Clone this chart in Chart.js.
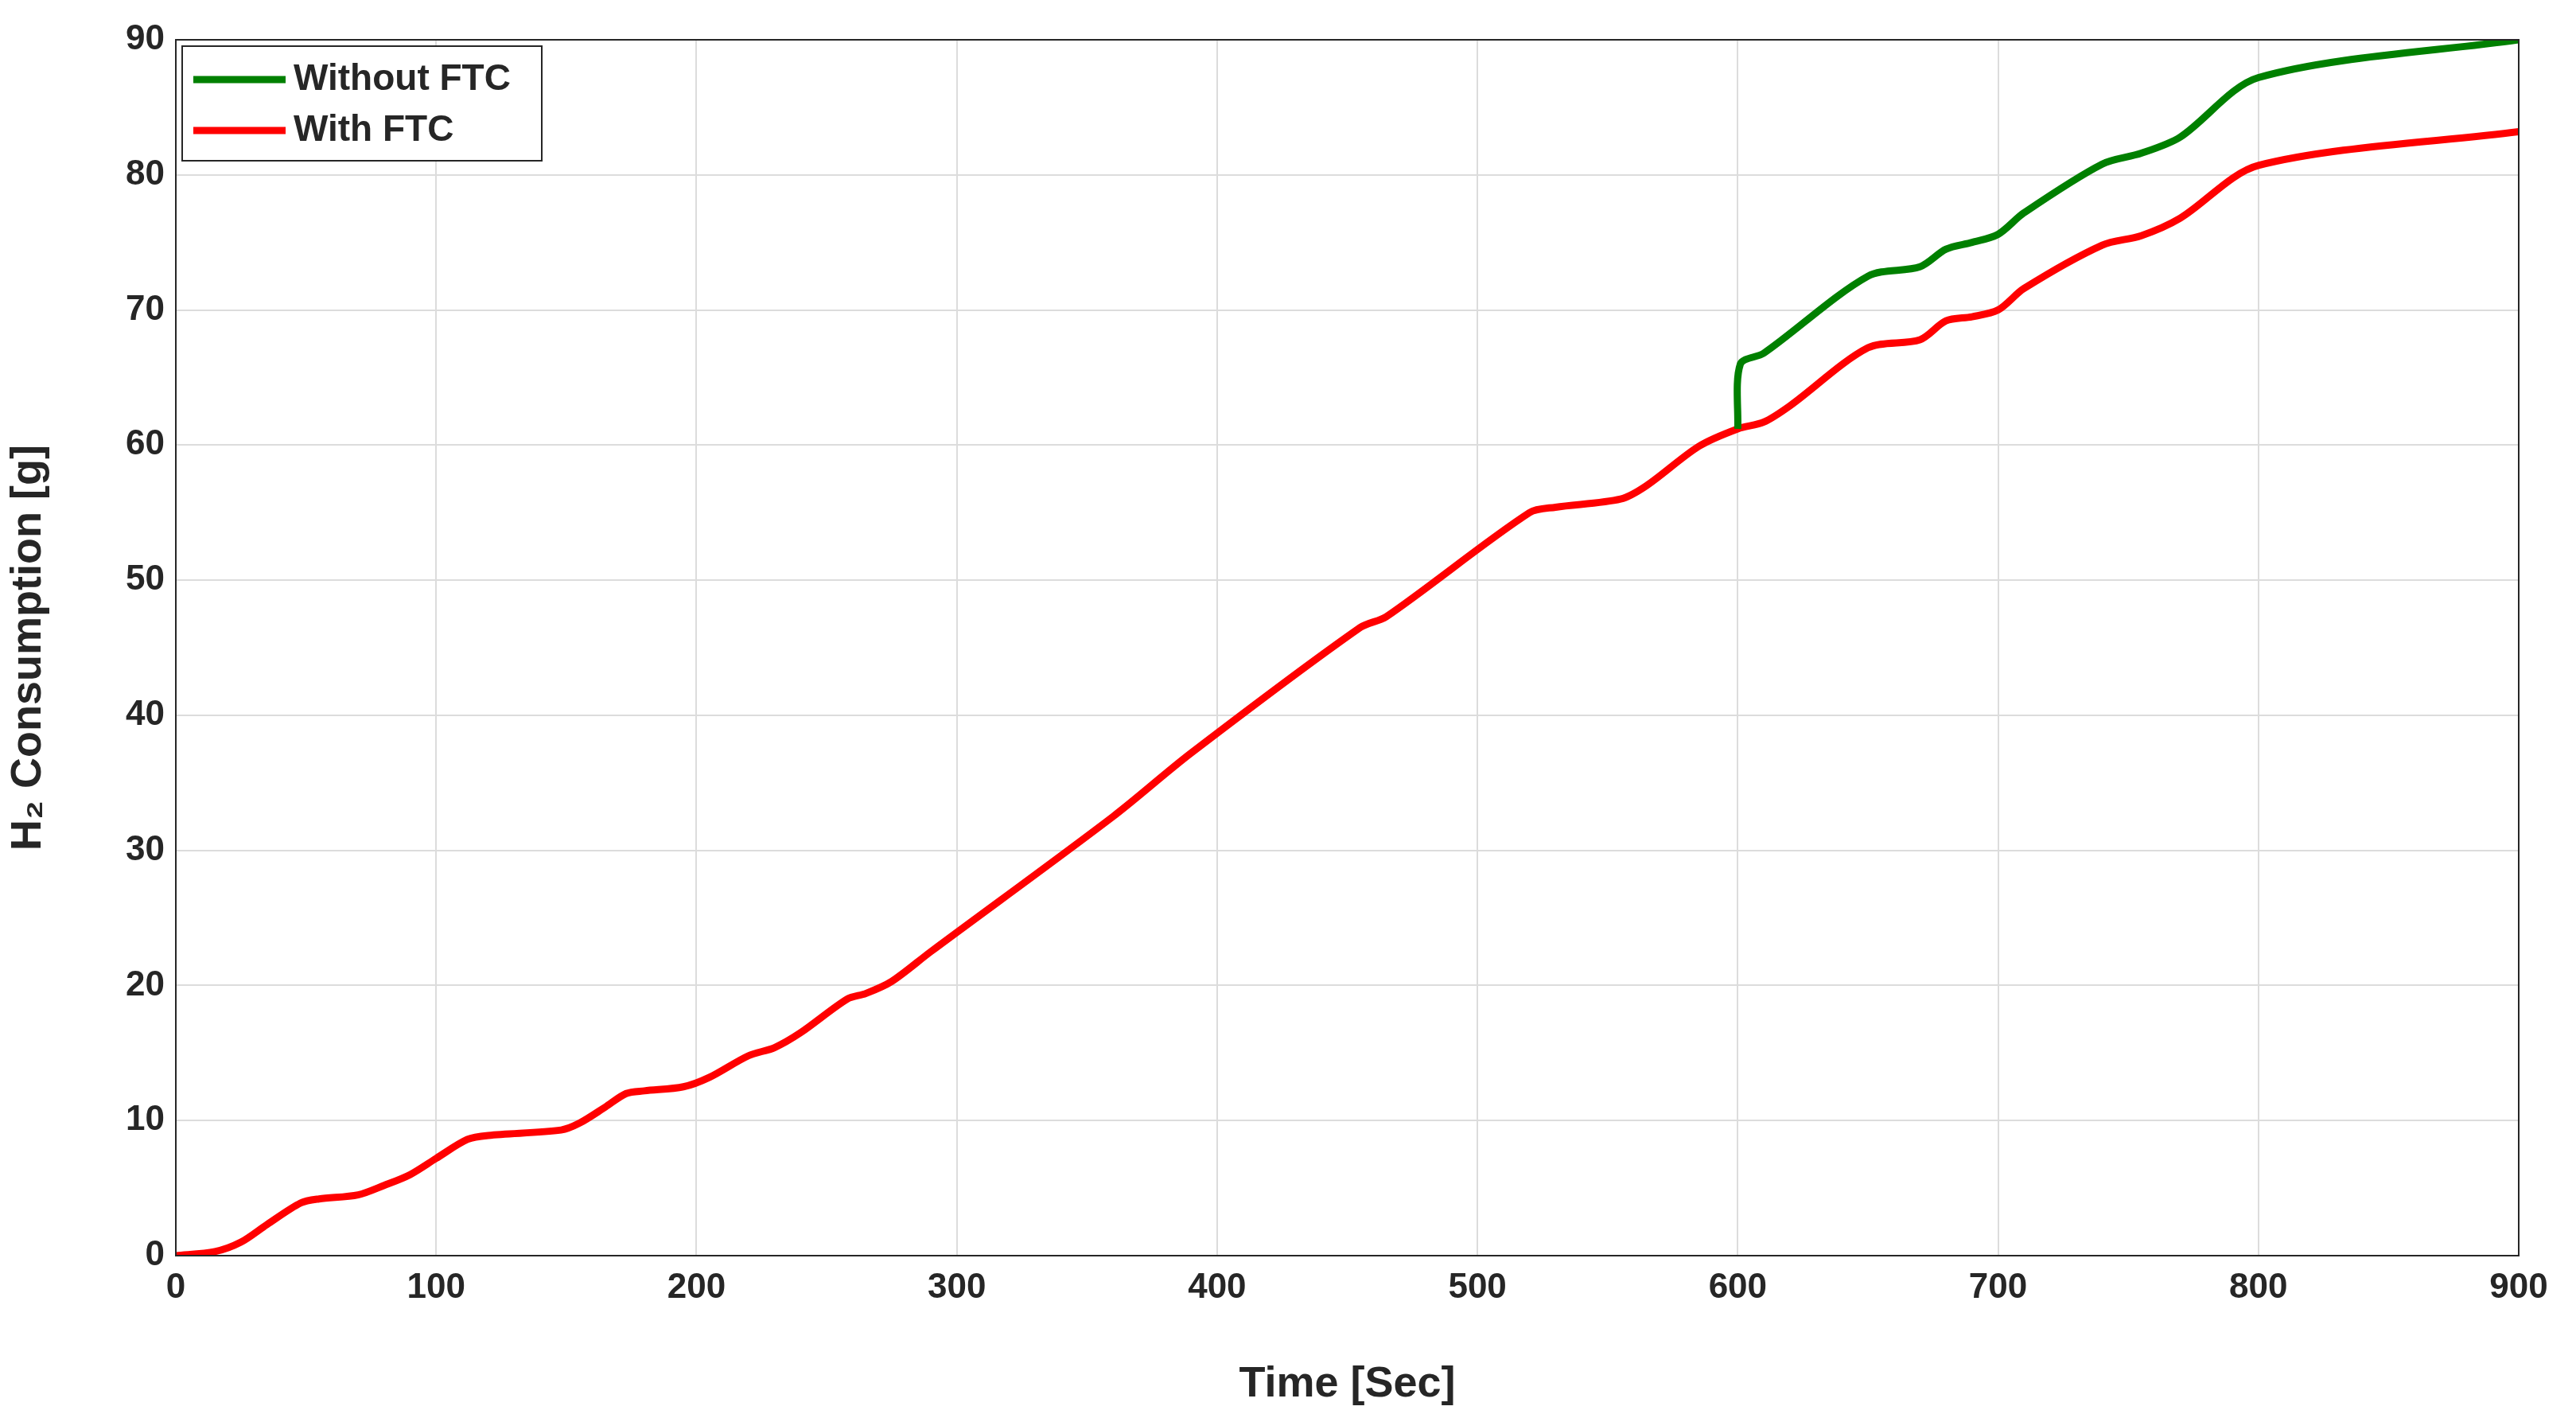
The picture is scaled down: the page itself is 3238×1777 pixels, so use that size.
<!DOCTYPE html>
<html>
<head>
<meta charset="utf-8">
<script src="https://cdn.jsdelivr.net/npm/chart.js@4/dist/chart.umd.min.js"></script>
<style>
  html, body { margin: 0; padding: 0; background: #fff; }
  #wrap { width: 3238px; height: 1777px; }
</style>
</head>
<body>
<div id="wrap"><canvas id="grafico"></canvas></div>
<script>
const tempoComFtc = [0, 15, 25, 35, 48, 55, 70, 80, 90, 100, 112, 120, 148, 155, 165, 173, 180, 195, 205, 220, 230, 240, 258, 265, 275, 290, 360, 390, 455, 465, 520, 530, 555, 565, 585, 600, 610, 620, 650, 670, 680, 690, 700, 710, 740, 755, 770, 800, 900];
const valoresComFtc = [0, 0.3, 1, 2.3, 3.9, 4.2, 4.5, 5.2, 6, 7.2, 8.6, 8.9, 9.3, 9.8, 11, 12, 12.2, 12.5, 13.2, 14.8, 15.4, 16.5, 19, 19.4, 20.3, 22.5, 32.5, 37.2, 46.5, 47.3, 55, 55.4, 56, 57, 59.9, 61.2, 61.7, 62.9, 67.2, 67.8, 69.2, 69.5, 70, 71.6, 74.8, 75.5, 76.8, 80.7, 83.2];
const tempoSemFtc = [600, 601, 610, 650, 670, 680, 690, 700, 710, 740, 755, 770, 800, 900];
const valoresSemFtc = [61.2, 66, 66.8, 72.5, 73.2, 74.5, 75, 75.6, 77.2, 80.8, 81.6, 82.8, 87.2, 90];
const rotulos = ["Without FTC", "With FTC"];
const ticksX = [0, 100, 200, 300, 400, 500, 600, 700, 800, 900];
const ticksY = [0, 10, 20, 30, 40, 50, 60, 70, 80, 90];

function pontos(xs, ys) {
    return xs.map((x, i) => ({ x: x, y: ys[i] }));
}

const fonte = "'Liberation Sans', Arial, sans-serif";

const legendaCaixa = {
    id: "legendaCaixa",
    afterDraw(chart) {
        const ctx = chart.ctx;
        const a = chart.chartArea;
        ctx.save();
        // moldura do eixo
        ctx.strokeStyle = "#262626";
        ctx.lineWidth = 2;
        ctx.strokeRect(a.left, a.top, a.right - a.left, a.bottom - a.top);
        // legenda
        const x0 = a.left + 8, y0 = a.top + 8, w = 452, h = 144;
        ctx.fillStyle = "#fff";
        ctx.fillRect(x0, y0, w, h);
        ctx.strokeStyle = "#262626";
        ctx.lineWidth = 2;
        ctx.strokeRect(x0, y0, w, h);
        const cores = ["#008000", "#ff0000"];
        ctx.font = "bold 46px " + fonte;
        ctx.textBaseline = "middle";
        rotulos.forEach((r, i) => {
            const y = y0 + 42 + i * 64;
            ctx.strokeStyle = cores[i];
            ctx.lineWidth = 9;
            ctx.beginPath();
            ctx.moveTo(x0 + 14, y);
            ctx.lineTo(x0 + 130, y);
            ctx.stroke();
            ctx.fillStyle = "#262626";
            ctx.fillText(r, x0 + 140, y);
        });
        ctx.restore();
    }
};

new Chart(document.getElementById("grafico").getContext("2d"), {
    type: "scatter",
    data: {
        datasets: [{
            label: rotulos[0],
            data: pontos(tempoSemFtc, valoresSemFtc),
            showLine: true,
            borderColor: "#008000",
            borderWidth: 9,
            pointRadius: 0,
            tension: 0.3
        }, {
            label: rotulos[1],
            data: pontos(tempoComFtc, valoresComFtc),
            showLine: true,
            borderColor: "#ff0000",
            borderWidth: 9,
            pointRadius: 0,
            tension: 0.3
        }]
    },
    options: {
        responsive: true,
        maintainAspectRatio: false,
        animation: false,
        layout: { padding: { left: 0, top: 50, right: 72, bottom: 0 } },
        plugins: { legend: { display: false }, tooltip: { enabled: false } },
        scales: {
            x: {
                type: "linear",
                min: 0,
                max: 900,
                afterBuildTicks: (s) => { s.ticks = ticksX.map(v => ({ value: v })); },
                afterFit: (s) => { s.height = 199; },
                grid: { color: "#dcdcdc", lineWidth: 2, drawTicks: false },
                border: { display: false },
                ticks: { color: "#262626", padding: 14, font: { size: 44, weight: "bold", family: fonte } },
                title: { display: true, text: "Time [Sec]", color: "#262626", padding: { top: 8 }, font: { size: 54, weight: "bold", family: fonte } }
            },
            y: {
                min: 0,
                max: 90,
                afterBuildTicks: (s) => { s.ticks = ticksY.map(v => ({ value: v })); },
                afterFit: (s) => { s.width = 221; },
                grid: { color: "#dcdcdc", lineWidth: 2, drawTicks: false },
                border: { display: false },
                ticks: { color: "#262626", padding: 14, font: { size: 44, weight: "bold", family: fonte } },
                title: { display: true, text: "H\u2082 Consumption [g]", color: "#262626", padding: { bottom: 10 }, font: { size: 54, weight: "bold", family: fonte } }
            }
        }
    },
    plugins: [legendaCaixa]
});
</script>
</body>
</html>
